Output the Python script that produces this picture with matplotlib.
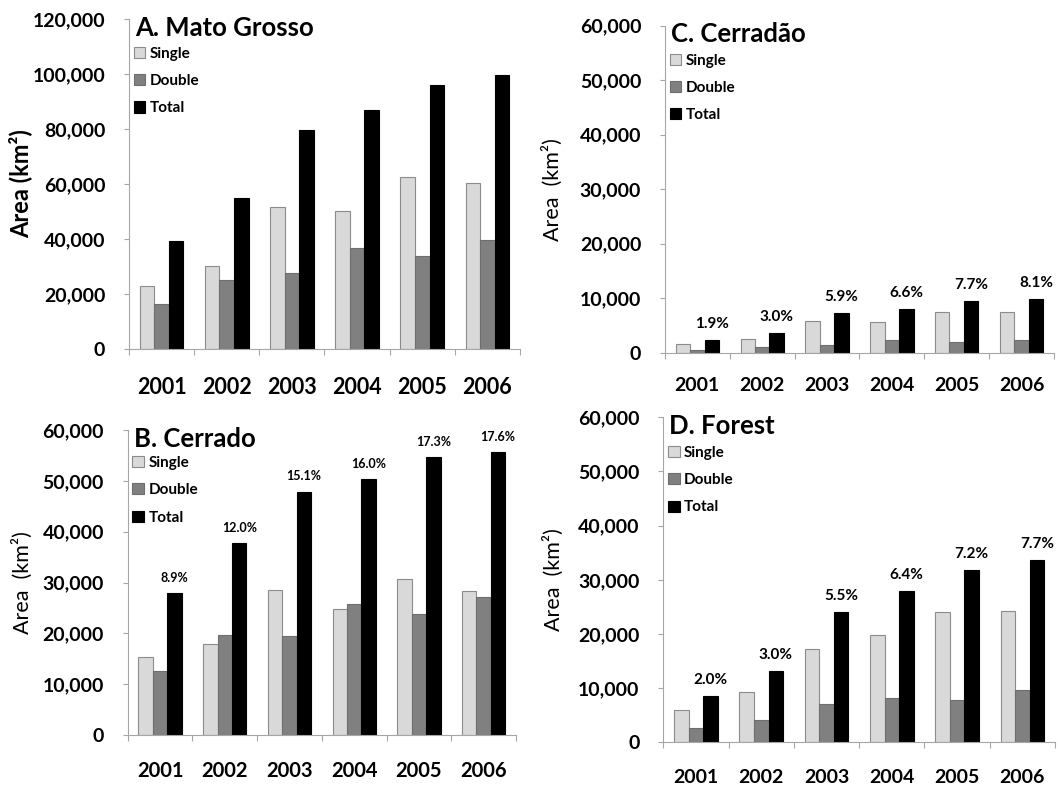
import numpy as np
import matplotlib
matplotlib.use("Agg")
import matplotlib.pyplot as plt

plt.rcParams['font.family'] = ['Lato', 'DejaVu Sans']
plt.rcParams['font.weight'] = 'bold'

anos = ['2001', '2002', '2003', '2004', '2005', '2006']

# areas em km2
mt_single = [23000, 30000, 51700, 50300, 62700, 60400]
mt_double = [16200, 25100, 27800, 36700, 33900, 39600]
mt_total = [39200, 54900, 79600, 87000, 96100, 99500]

cerrado_single = [15300, 18000, 28500, 24700, 30700, 28300]
cerrado_double = [12600, 19700, 19400, 25800, 23900, 27200]
cerrado_total = [28000, 37800, 47900, 50400, 54700, 55600]
cerrado_pct = ['8.9%', '12.0%', '15.1%', '16.0%', '17.3%', '17.6%']

cerradao_single = [1650, 2600, 5900, 5600, 7400, 7500]
cerradao_double = [550, 1050, 1350, 2400, 2000, 2400]
cerradao_total = [2300, 3600, 7300, 8000, 9400, 9900]
cerradao_pct = ['1.9%', '3.0%', '5.9%', '6.6%', '7.7%', '8.1%']

forest_single = [5900, 9200, 17300, 19900, 24100, 24200]
forest_double = [2700, 4100, 7000, 8200, 7800, 9600]
forest_total = [8500, 13200, 24100, 28000, 31800, 33700]
forest_pct = ['2.0%', '3.0%', '5.5%', '6.4%', '7.2%', '7.7%']

cinza_eixo = '#a6a6a6'


def painel(pos, titulo, single, double, total, ymax, ystep, pct=None,
           pct_size=11, ylabel_bold=False, ylabel_size=15.5, ylabel_x=-0.25,
           year_size=14, year_pad=20, leg_top=0.92):
    ax = fig.add_axes(pos)
    x = np.arange(len(anos))
    w = 0.223
    ax.bar(x - w, single, w, color='#d9d9d9', edgecolor='#8c8c8c',
           linewidth=0.8, label='Single')
    ax.bar(x, double, w, color='#808080', edgecolor='#6e6e6e',
           linewidth=0.8, label='Double')
    barras = ax.bar(x + w, total, w, color='black', edgecolor='black',
                    linewidth=0.8, label='Total')
    if pct is not None:
        for b, txt in zip(barras, pct):
            ax.annotate(txt, (b.get_x() + b.get_width() / 2, b.get_height()),
                        xytext=(0, 6.5), textcoords='offset points',
                        ha='center', va='bottom', fontsize=pct_size,
                        fontweight='bold', annotation_clip=False)

    ax.set_xlim(-0.5, len(anos) - 0.5)
    ax.set_ylim(0, ymax)
    ax.set_yticks(np.arange(0, ymax + 1, ystep))
    ax.set_yticklabels([f'{v:,}' for v in np.arange(0, ymax + 1, ystep)],
                       fontsize=14, fontweight='bold')
    ax.set_xticks(x)
    ax.set_xticklabels(anos, fontsize=year_size, fontweight='bold')
    ax.set_xticks(np.arange(-0.5, len(anos)), minor=True)
    ax.tick_params(axis='x', which='major', length=0, pad=year_pad)
    ax.tick_params(axis='x', which='minor', length=4.5, color=cinza_eixo,
                   width=0.8, direction='out')
    ax.tick_params(axis='y', length=3.6, color=cinza_eixo, width=0.8,
                   pad=13.5)
    for s in ['top', 'right']:
        ax.spines[s].set_visible(False)
    for s in ['left', 'bottom']:
        ax.spines[s].set_color(cinza_eixo)
        ax.spines[s].set_linewidth(0.8)

    ax.set_ylabel('Area (km²)' if ylabel_bold else 'Area  (km²)',
                  fontsize=ylabel_size,
                  fontweight='bold' if ylabel_bold else 'normal')
    ax.yaxis.set_label_coords(ylabel_x, 0.5)

    ax.text(0.015, 1.01, titulo, transform=ax.transAxes, ha='left',
            va='top', fontsize=18.5, fontweight='bold')
    ax.legend(loc='upper left', bbox_to_anchor=(0.012, leg_top),
              frameon=False, handlelength=0.75,
              handleheight=0.75, handletextpad=0.3, labelspacing=0.87,
              borderaxespad=0, borderpad=0, prop={'weight': 'bold', 'size': 11})
    return ax


fig = plt.figure(figsize=(10.58, 7.89), dpi=100)

painel([0.1219, 0.5577, 0.3696, 0.4183], 'A. Mato Grosso',
       mt_single, mt_double, mt_total, 120000, 20000,
       ylabel_bold=True, ylabel_size=17, ylabel_x=-0.248,
       year_size=15.5, year_pad=20, leg_top=0.916)
painel([0.6285, 0.553, 0.3677, 0.4144], 'C. Cerradão',
       cerradao_single, cerradao_double, cerradao_total, 60000, 10000,
       pct=cerradao_pct, pct_size=11, ylabel_x=-0.262,
       year_size=14, year_pad=17.5, leg_top=0.915)
painel([0.1207, 0.0684, 0.367, 0.3866], 'B. Cerrado',
       cerrado_single, cerrado_double, cerrado_total, 60000, 10000,
       pct=cerrado_pct, pct_size=9, ylabel_x=-0.244,
       year_size=14.5, year_pad=19, leg_top=0.915)
painel([0.627, 0.0592, 0.3702, 0.4119], 'D. Forest',
       forest_single, forest_double, forest_total, 60000, 10000,
       pct=forest_pct, pct_size=11, ylabel_x=-0.255,
       year_size=14, year_pad=19, leg_top=0.912)

fig.savefig('out.png', dpi=100)
